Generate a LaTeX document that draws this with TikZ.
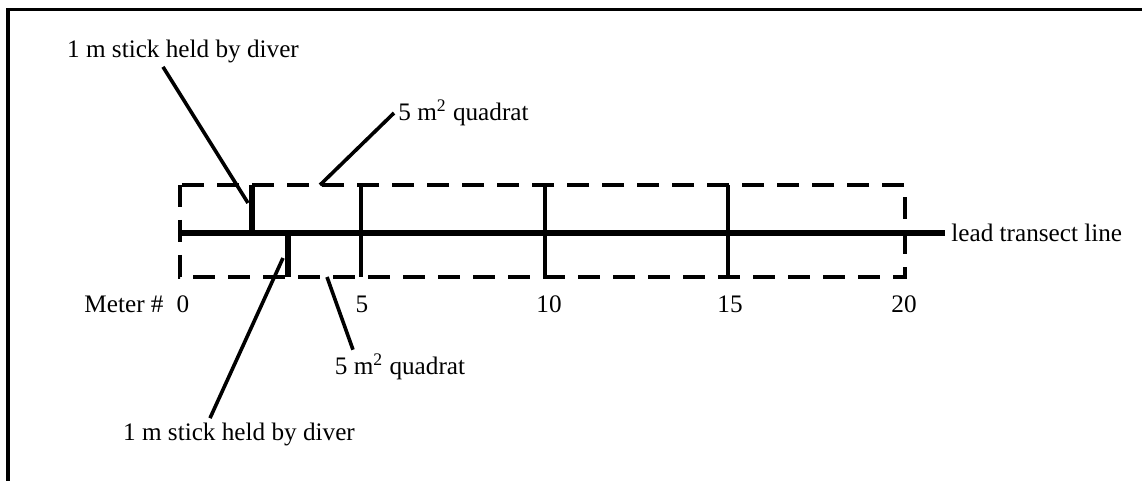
\documentclass[tikz,border=0pt]{standalone}
\usepackage{fontspec}
\setmainfont{Liberation Serif}
\usetikzlibrary{positioning}

\begin{document}
\begin{tikzpicture}[x=0.5pt, y=-0.5pt,
      lbl/.style={inner sep=2pt, font=\fontsize{12.6pt}{14pt}\selectfont},
      quad/.style={line width=1.6pt, dash pattern=on 11pt off 6.5pt},
      bar/.style={line width=1.6pt},
      stickbar/.style={line width=3pt},
      leader/.style={line width=1.8pt}]
    \useasboundingbox (0,0) rectangle (1142,481);
    \draw[line width=1.6pt] (8,481) -- (8,9.5) -- (1142,9.5);
    \draw[quad] (180,185) rectangle (905,277);
    \coordinate (tStart) at (180,233);
    \coordinate (tEnd) at (945,233);
    \draw[line width=2.8pt] (tStart) -- (tEnd);
    \foreach \x in {361,545,728}
      \draw[bar] (\x,185) -- (\x,277);
    \draw[stickbar] (252,185) -- (252,233);
    \draw[stickbar] (288,233) -- (288,277);
    \node[lbl, right=1pt of tEnd] (transect) {lead transect line};
    \node[lbl] (meter) at (124,304) {Meter \#};
    \foreach \m/\x in {0/183, 5/362, 10/549, 15/730, 20/904}
      \node[lbl] (m\m) at (\x,304) {\m};
    \node[lbl] (stickUp) at (183,51) {1 m stick held by diver};
    \node[lbl] (stickLow) at (239,434) {1 m stick held by diver};
    \node[lbl, anchor=west] (quadUp) at (394,113) {5 m\textsuperscript{2} quadrat};
    \node[lbl] (quadLow) at (400,367) {5 m\textsuperscript{2} quadrat};
    \coordinate (tipA) at (248,203);
    \coordinate (tipB) at (283,258);
    \coordinate (tipC) at (320,185);
    \coordinate (tipD) at (327,277);
    \draw[leader] ([xshift=-10pt]stickUp.south) -- (tipA);
    \draw[leader] ([xshift=-14.5pt]stickLow.north) -- (tipB);
    \draw[leader] (quadUp.west) -- (tipC);
    \draw[leader] ([xshift=-23.5pt]quadLow.north) -- (tipD);
  \end{tikzpicture}
\end{document}
